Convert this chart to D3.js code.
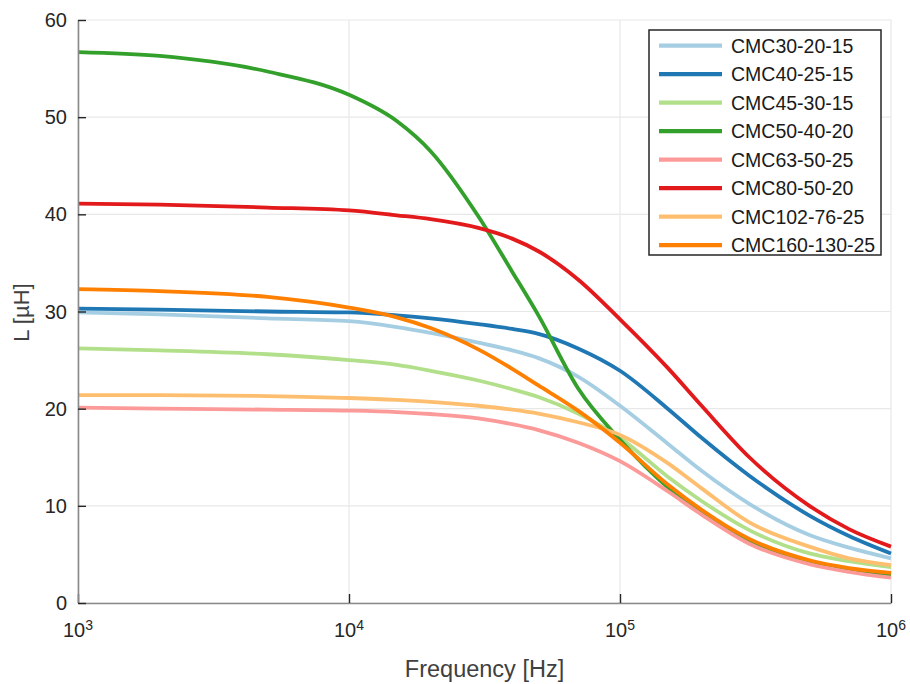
<!DOCTYPE html>
<html>
<head>
<meta charset="utf-8">
<script src="https://cdn.jsdelivr.net/npm/d3@7"></script>
<style>
    html, body { margin: 0; padding: 0; background: #fff; }
    #chart { width: 910px; height: 684px; }
    text { font-family: "Liberation Sans", Arial, sans-serif; }
</style>
</head>
<body>
<div id="chart"></div>
<script>
const frequency = [1e3, 2e3, 5e3, 1e4, 1.5e4, 2e4, 3e4, 4e4, 5e4, 7e4, 1e5, 1.5e5, 2e5, 3e5, 5e5, 7e5, 1e6];

// Inductance in µH per core
const cmc30_20_15   = [29.9, 29.7, 29.3, 29.0, 28.4, 27.8, 26.8, 26.0, 25.2, 23.3, 20.3, 16.4, 13.6, 10.2, 7.0, 5.7, 4.6];
const cmc40_25_15   = [30.3, 30.2, 30.0, 29.9, 29.6, 29.3, 28.7, 28.2, 27.7, 26.2, 23.9, 20.0, 17.0, 13.1, 9.0, 6.9, 5.1];
const cmc45_30_15   = [26.2, 26.0, 25.6, 25.0, 24.5, 23.9, 22.9, 22.0, 21.2, 19.5, 17.0, 13.0, 10.5, 7.5, 5.1, 4.3, 3.7];
const cmc50_40_20   = [56.7, 56.3, 54.7, 52.3, 49.6, 46.5, 39.8, 34.1, 29.6, 22.1, 16.8, 11.9, 9.2, 6.3, 4.1, 3.4, 2.9];
const cmc63_50_25   = [20.1, 20.0, 19.9, 19.8, 19.65, 19.45, 19.0, 18.4, 17.8, 16.5, 14.6, 11.5, 9.1, 6.1, 4.0, 3.2, 2.6];
const cmc80_50_20   = [41.1, 41.0, 40.7, 40.4, 39.9, 39.5, 38.6, 37.5, 36.2, 33.3, 29.2, 24.2, 20.3, 15.0, 10.0, 7.6, 5.8];
const cmc102_76_25  = [21.4, 21.4, 21.3, 21.1, 20.9, 20.7, 20.3, 19.9, 19.5, 18.6, 17.3, 14.4, 11.8, 8.3, 5.8, 4.6, 3.9];
const cmc160_130_25 = [32.3, 32.1, 31.5, 30.4, 29.4, 28.3, 26.1, 24.1, 22.4, 19.8, 16.5, 12.2, 9.6, 6.6, 4.4, 3.6, 3.1];

const seriesNames = ["CMC30-20-15", "CMC40-25-15", "CMC45-30-15", "CMC50-40-20",
                     "CMC63-50-25", "CMC80-50-20", "CMC102-76-25", "CMC160-130-25"];
const seriesValues = [cmc30_20_15, cmc40_25_15, cmc45_30_15, cmc50_40_20,
                      cmc63_50_25, cmc80_50_20, cmc102_76_25, cmc160_130_25];

const xTicks = [1e3, 1e4, 1e5, 1e6];
const yTicks = [0, 10, 20, 30, 40, 50, 60];

const xLabel = "Frequency [Hz]";
const yLabel = "L [µH]";

// Paired palette, light/dark per pair
const COLORS = ["#a6cee3", "#1f78b4", "#b2df8a", "#33a02c", "#fb9a99", "#e31a1c", "#fdbf6f", "#ff7f00"];

const WIDTH = 910, HEIGHT = 684;
const MARGIN = { left: 78, right: 19, top: 20, bottom: 81 };
const LINE_WIDTH = 3.8;

const innerW = WIDTH - MARGIN.left - MARGIN.right;
const innerH = HEIGHT - MARGIN.top - MARGIN.bottom;

const series = seriesNames.map((name, i) => ({
    name,
    color: COLORS[i],
    points: frequency.map((f, j) => ({ f, L: seriesValues[i][j] }))
}));

const svg = d3.select("#chart")
    .append("svg")
    .attr("width", WIDTH)
    .attr("height", HEIGHT);

const g = svg.append("g")
    .attr("transform", `translate(${MARGIN.left}, ${MARGIN.top})`);

const x = d3.scaleLog().domain([1e3, 1e6]).range([0, innerW]);
const y = d3.scaleLinear().domain([0, 60]).range([innerH, 0]);

// Grid
g.append("g")
    .selectAll("line")
    .data(xTicks)
    .join("line")
    .attr("x1", d => x(d)).attr("x2", d => x(d))
    .attr("y1", 0).attr("y2", innerH)
    .attr("stroke", "#e8e8e8")
    .attr("stroke-width", 1.2);

g.append("g")
    .selectAll("line")
    .data(yTicks)
    .join("line")
    .attr("x1", 0).attr("x2", innerW)
    .attr("y1", d => y(d)).attr("y2", d => y(d))
    .attr("stroke", "#e8e8e8")
    .attr("stroke-width", 1.2);

// Curves (monotone in x, so the spline respects the log spacing)
const line = d3.line()
    .x(d => x(d.f))
    .y(d => y(d.L))
    .curve(d3.curveMonotoneX);

g.append("g")
    .selectAll("path")
    .data(series)
    .join("path")
    .attr("d", d => line(d.points))
    .attr("fill", "none")
    .attr("stroke", d => d.color)
    .attr("stroke-width", LINE_WIDTH)
    .attr("stroke-linejoin", "round");

// Axes (ticks drawn inward, MATLAB style)
const xAxis = g.append("g")
    .attr("transform", `translate(0, ${innerH})`)
    .call(d3.axisBottom(x).tickValues(xTicks).tickSizeInner(-9).tickSizeOuter(0).tickFormat(""));

const yAxis = g.append("g")
    .call(d3.axisLeft(y).tickValues(yTicks).tickSizeInner(-8).tickSizeOuter(0).tickFormat(""));

[xAxis, yAxis].forEach(ax => {
    ax.select(".domain").attr("stroke", "#8a8a8a").attr("stroke-width", 1.6);
    ax.selectAll(".tick line").attr("stroke", "#262626").attr("stroke-width", 1.4);
});

// X tick labels with superscript exponents
const xt = g.append("g")
    .selectAll("text")
    .data(xTicks)
    .join("text")
    .attr("x", d => x(d))
    .attr("y", innerH + 34)
    .attr("text-anchor", "middle")
    .style("font-size", "20px")
    .style("fill", "#262626");
xt.append("tspan").text("10");
xt.append("tspan")
    .attr("dy", -7)
    .style("font-size", "14px")
    .text(d => Math.round(Math.log10(d)));

// Y tick labels
g.append("g")
    .selectAll("text")
    .data(yTicks)
    .join("text")
    .attr("x", -11)
    .attr("y", d => y(d))
    .attr("dy", "0.35em")
    .attr("text-anchor", "end")
    .style("font-size", "20px")
    .style("fill", "#262626")
    .text(d => d);

// Axis titles
g.append("text")
    .attr("x", innerW / 2)
    .attr("y", innerH + 74)
    .attr("text-anchor", "middle")
    .style("font-size", "23.5px")
    .style("fill", "#404040")
    .text(xLabel);

g.append("text")
    .attr("transform", `translate(${-MARGIN.left + 29}, ${innerH / 2 + 1}) rotate(-90)`)
    .attr("text-anchor", "middle")
    .style("font-size", "22px")
    .style("fill", "#404040")
    .text(yLabel);

// Legend
const LEG = { x: 649, y: 30, w: 232, h: 225, row: 28.5, first: 15.7 };

const legend = svg.append("g")
    .attr("transform", `translate(${LEG.x}, ${LEG.y})`);

legend.append("rect")
    .attr("width", LEG.w)
    .attr("height", LEG.h)
    .attr("fill", "#fff")
    .attr("stroke", "#262626")
    .attr("stroke-width", 1.5);

const rows = legend.selectAll("g.row")
    .data(series)
    .join("g")
    .attr("class", "row")
    .attr("transform", (d, i) => `translate(0, ${LEG.first + i * LEG.row})`);

rows.append("line")
    .attr("x1", 10).attr("x2", 73)
    .attr("stroke", d => d.color)
    .attr("stroke-width", LINE_WIDTH + 0.4);

rows.append("text")
    .attr("x", 82)
    .attr("dy", "0.35em")
    .style("font-size", "19.5px")
    .style("fill", "#1a1a1a")
    .text(d => d.name);
</script>
</body>
</html>
